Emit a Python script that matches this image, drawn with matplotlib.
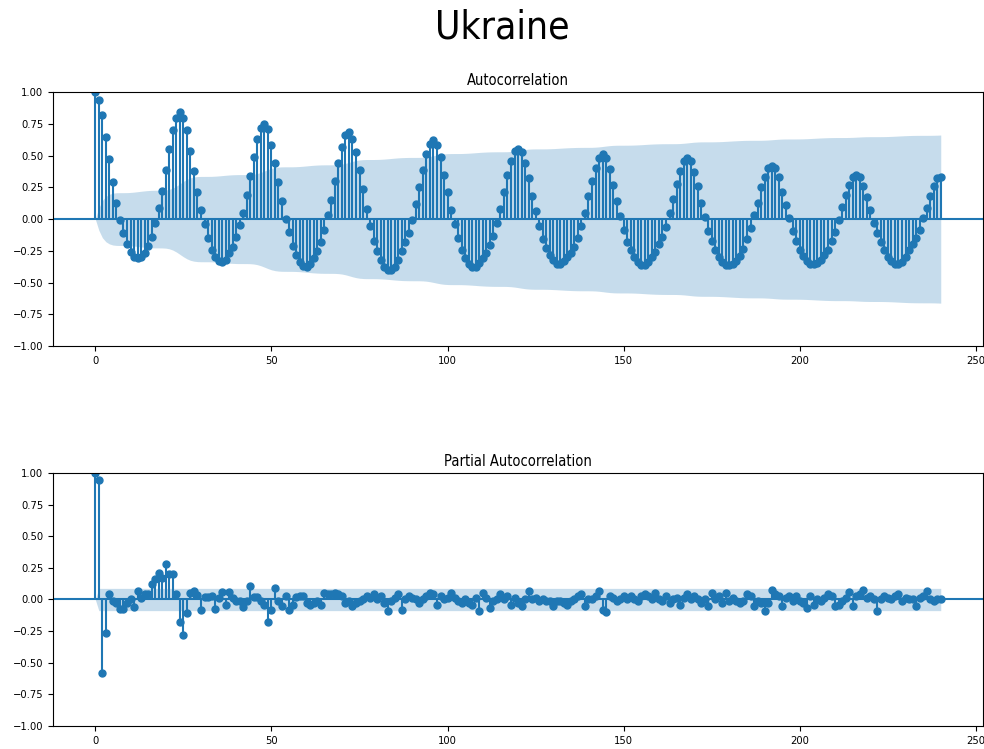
import numpy as np
import matplotlib
matplotlib.use("Agg")
import matplotlib.pyplot as plt

plt.rcParams["font.family"] = ["DejaVu Sans"]
plt.rcParams["font.stretch"] = "condensed"

country = "Ukraine"
n_obs = 496

# sample autocorrelation, lags 0..240
acf_values = [
    1.0, 0.94, 0.82, 0.645, 0.47, 0.29, 0.13, -0.01, -0.11, -0.20,
    -0.26, -0.30, -0.31, -0.30, -0.27, -0.21, -0.14, -0.03, 0.09, 0.225,
    0.39, 0.555, 0.70, 0.80, 0.84, 0.80, 0.70, 0.535, 0.38, 0.21,
    0.07, -0.04, -0.15, -0.24, -0.30, -0.33, -0.34, -0.32, -0.27, -0.22,
    -0.14, -0.05, 0.05, 0.19, 0.34, 0.49, 0.63, 0.72, 0.75, 0.71,
    0.58, 0.44, 0.29, 0.14, 0.0, -0.10, -0.21, -0.28, -0.34, -0.37,
    -0.38, -0.355, -0.31, -0.25, -0.18, -0.085, 0.035, 0.15, 0.30, 0.44,
    0.565, 0.66, 0.685, 0.63, 0.53, 0.385, 0.235, 0.08, -0.055, -0.17,
    -0.255, -0.32, -0.375, -0.40, -0.40, -0.375, -0.32, -0.255, -0.18, -0.11,
    -0.01, 0.115, 0.255, 0.39, 0.51, 0.59, 0.62, 0.585, 0.49, 0.35,
    0.21, 0.075, -0.04, -0.15, -0.245, -0.31, -0.355, -0.375, -0.375, -0.345,
    -0.31, -0.27, -0.205, -0.13, -0.03, 0.08, 0.21, 0.345, 0.46, 0.54,
    0.555, 0.53, 0.44, 0.32, 0.185, 0.06, -0.055, -0.16, -0.23, -0.285,
    -0.32, -0.35, -0.35, -0.33, -0.30, -0.265, -0.22, -0.15, -0.055, 0.05,
    0.18, 0.30, 0.405, 0.485, 0.51, 0.48, 0.395, 0.27, 0.14, 0.025,
    -0.085, -0.18, -0.245, -0.30, -0.34, -0.365, -0.365, -0.34, -0.30, -0.26,
    -0.20, -0.14, -0.06, 0.05, 0.16, 0.28, 0.38, 0.46, 0.485, 0.46,
    0.37, 0.26, 0.13, 0.02, -0.09, -0.17, -0.245, -0.30, -0.34, -0.36,
    -0.36, -0.35, -0.33, -0.29, -0.235, -0.16, -0.07, 0.035, 0.13, 0.25,
    0.33, 0.40, 0.42, 0.40, 0.33, 0.21, 0.11, 0.008, -0.09, -0.17,
    -0.24, -0.29, -0.33, -0.35, -0.355, -0.345, -0.32, -0.28, -0.24, -0.17,
    -0.10, -0.005, 0.095, 0.19, 0.27, 0.335, 0.35, 0.33, 0.26, 0.175,
    0.07, -0.027, -0.106, -0.18, -0.245, -0.30, -0.33, -0.35, -0.35, -0.34,
    -0.30, -0.245, -0.20, -0.15, -0.085, 0.008, 0.09, 0.185, 0.26, 0.32,
    0.33,
]

# partial autocorrelation, lags 0..240
pacf_values = [
    1.0, 0.947, -0.578, -0.268, 0.04, -0.013, -0.027, -0.074, -0.074, -0.027,
    0.0, -0.058, 0.066, 0.008, 0.045, 0.04, 0.125, 0.16, 0.21, 0.17,
    0.284, 0.2, 0.2, 0.045, -0.178, -0.284, -0.106, 0.053, 0.07, 0.035,
    -0.08, 0.019, 0.019, 0.027, -0.074, 0.008, 0.058, -0.04, 0.058, 0.013,
    -0.008, -0.013, -0.06, -0.013, 0.106, 0.019, 0.019, -0.013, -0.045, -0.178,
    -0.08, 0.088, -0.008, -0.053, 0.027, -0.08, -0.045, 0.019, 0.027, 0.027,
    -0.027, -0.04, -0.027, -0.013, -0.04, 0.053, 0.04, 0.04, 0.053, 0.04,
    0.027, -0.027, -0.008, -0.053, -0.027, -0.013, 0.0, 0.027, 0.013, 0.04,
    0.0, 0.027, -0.027, -0.088, -0.013, 0.013, 0.04, -0.08, 0.0, 0.027,
    0.013, 0.0, -0.027, 0.0, 0.027, 0.053, 0.04, -0.04, 0.027, 0.0,
    0.013, 0.053, 0.013, -0.013, -0.027, 0.0, -0.027, -0.04, 0.013, -0.09,
    0.053, 0.013, -0.066, -0.013, 0.0, 0.04, 0.0, 0.027, -0.04, 0.013,
    -0.027, -0.053, 0.0, 0.066, 0.0, 0.013, -0.013, 0.0, -0.008, -0.013,
    -0.053, -0.008, -0.013, -0.027, -0.04, -0.013, 0.0, 0.027, 0.04, -0.053,
    0.0, 0.0, 0.027, 0.066, -0.08, -0.098, 0.027, 0.013, -0.013, 0.0,
    0.027, 0.0, 0.027, 0.0, -0.013, 0.027, 0.04, 0.027, 0.0, 0.053,
    0.0, -0.013, 0.027, -0.027, 0.0, 0.013, -0.04, 0.013, 0.04, 0.0,
    0.027, 0.0, -0.027, 0.0, -0.053, 0.053, 0.0, 0.027, -0.027, 0.053,
    -0.008, 0.013, -0.013, -0.027, -0.013, 0.04, 0.027, -0.053, -0.013, -0.027,
    -0.09, -0.027, 0.072, 0.045, 0.027, -0.053, 0.013, 0.027, -0.013, 0.027,
    -0.013, -0.027, -0.066, 0.027, -0.04, 0.0, -0.013, 0.013, 0.04, 0.027,
    -0.053, -0.04, -0.008, 0.013, 0.06, -0.053, 0.027, 0.04, 0.072, 0.013,
    0.027, 0.0, -0.088, 0.0, 0.027, 0.013, 0.0, 0.027, 0.04, -0.013,
    0.013, 0.0, 0.0, -0.053, 0.013, 0.027, 0.066, 0.0, -0.008, 0.0,
    0.0,
]


def bartlett_band(acf, nobs):
    acf = np.asarray(acf)
    var = np.ones_like(acf) / nobs
    var[0] = 0
    var[2:] *= 1 + 2 * np.cumsum(acf[1:-1] ** 2)
    return 1.96 * np.sqrt(var)


def pacf_band(pacf, nobs):
    band = np.full(len(pacf), 1.96 / np.sqrt(nobs))
    band[0] = 0
    return band


def corr_plot(ax, values, band, title):
    lags = np.arange(len(values))
    ax.vlines(lags, [0], values, color="C0", lw=1.5)
    ax.axhline(0, color="C0", lw=1.5)
    ax.plot(lags, values, marker="o", markersize=5, linestyle="None", color="C0")
    ax.fill_between(lags, -band, band, alpha=0.25, linewidth=0, color="C0")
    ax.margins(x=0.05)
    ax.set_ylim(-1, 1)
    ticks = np.arange(-1, 1.01, 0.25)
    ax.set_yticks(ticks)
    ax.set_yticklabels([f"{t:.2f}".replace("-", "\u2212") for t in ticks])
    ax.set_xticks([0, 50, 100, 150, 200, 250])
    ax.tick_params(labelsize=8)
    ax.set_title(title, fontsize=10.5, pad=5)


fig = plt.figure(figsize=(9.84, 7.49), dpi=100)
ax1 = fig.add_axes([0.0539, 0.538, 0.9451, 0.339])
ax2 = fig.add_axes([0.0539, 0.0307, 0.9451, 0.3378])

corr_plot(ax1, acf_values, bartlett_band(acf_values, n_obs), "Autocorrelation")
corr_plot(ax2, pacf_values, pacf_band(pacf_values, n_obs), "Partial Autocorrelation")

fig.suptitle(country, fontsize=28, x=0.51, y=0.988, va="top")

fig.savefig("out.png", dpi=100)
